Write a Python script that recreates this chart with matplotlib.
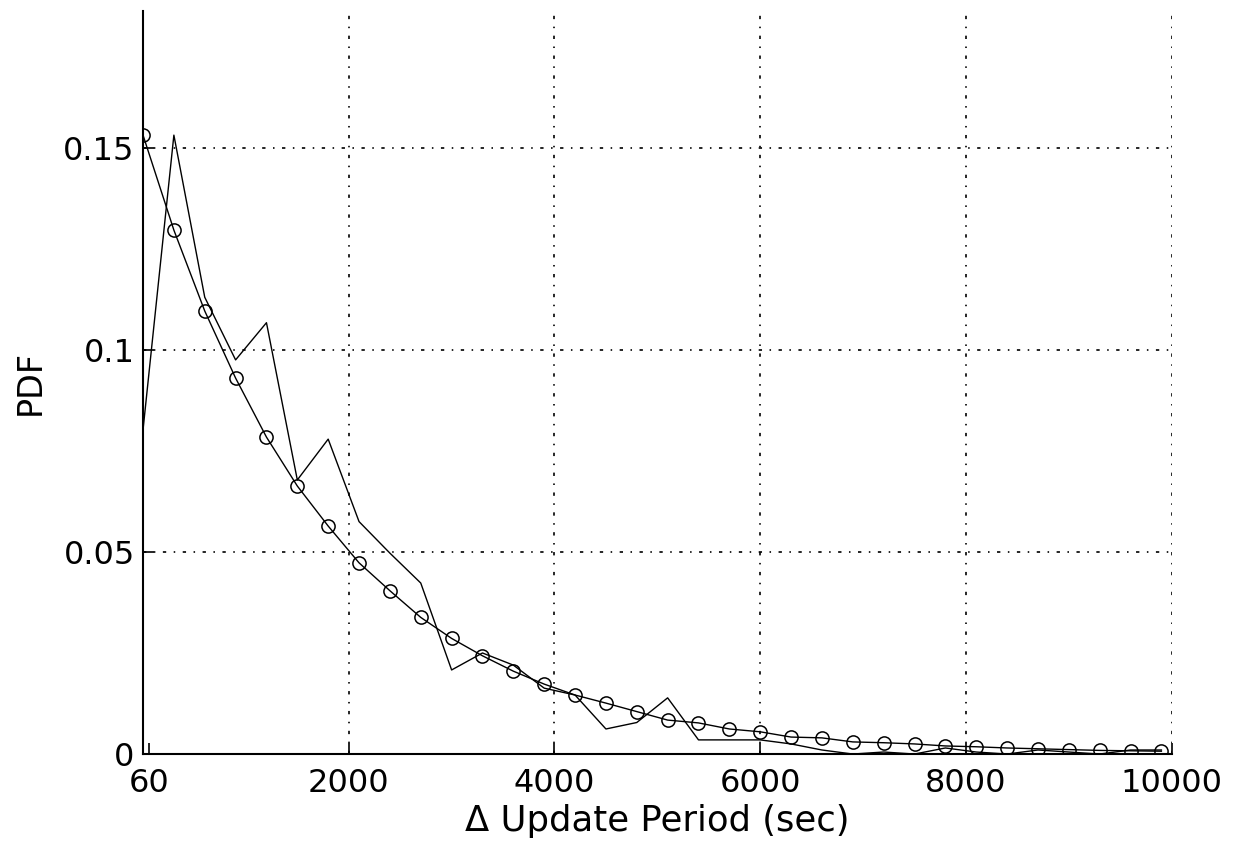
import matplotlib
matplotlib.use("Agg")
import matplotlib.pyplot as plt

# bin positions (sec)
period = [0, 300, 600, 900, 1200, 1500, 1800, 2100, 2400, 2700,
          3000, 3300, 3600, 3900, 4200, 4500, 4800, 5100, 5400, 5700,
          6000, 6300, 6600, 6900, 7200, 7500, 7800, 8100, 8400, 8700,
          9000, 9300, 9600, 9900]

# measured PDF (plain line)
pdf_measured = [0.0802, 0.1531, 0.113, 0.0975, 0.1067, 0.0678, 0.0779, 0.0575, 0.0497, 0.0423,
                0.0208, 0.0250, 0.0220, 0.0163, 0.0146, 0.0062, 0.0078, 0.0139, 0.0035, 0.0035,
                0.0035, 0.0025, 0.0010, 0.0000, 0.0005, 0.0000, 0.0015, 0.0005, 0.0000, 0.0010,
                0.0005, 0.0000, 0.0010, 0.0010]

# fitted PDF (line with circles)
pdf_fit = [0.1531, 0.1296, 0.1096, 0.0930, 0.0784, 0.0663, 0.0564, 0.0473, 0.0404, 0.0338,
           0.0286, 0.0243, 0.0205, 0.0173, 0.0146, 0.0126, 0.0105, 0.0084, 0.0077, 0.0062,
           0.0055, 0.0042, 0.0040, 0.0030, 0.0028, 0.0025, 0.0020, 0.0018, 0.0015, 0.0013,
           0.0011, 0.0009, 0.0008, 0.0007]

xticks = [60, 2000, 4000, 6000, 8000, 10000]
yticks = [0, 0.05, 0.1, 0.15]
ytick_labels = ["0", "0.05", "0.1", "0.15"]

plt.rcParams['font.family'] = ['DejaVu Sans']
plt.rcParams['lines.scale_dashes'] = False

fig = plt.figure(figsize=(12.34, 8.48), dpi=100)
ax = fig.add_axes([0.1159, 0.1108, 0.8336, 0.8762])

ax.plot(period, pdf_measured, color="black", linewidth=1.0)
ax.plot(period, pdf_fit, color="black", linewidth=1.0, marker="o",
        markersize=9.5, markerfacecolor="none", markeredgewidth=1.1)

ax.set_xlim(0, 10000)
ax.set_ylim(0, 0.1838)
ax.set_xticks(xticks)
ax.set_xticklabels([str(t) for t in xticks])
ax.set_yticks(yticks)
ax.set_yticklabels(ytick_labels)

# matlab style grid
ax.grid(True, color="black", linewidth=1.2, linestyle=(0, (2.4, 5.4, 1.1, 5.4)))
# no grid line at 60 (sits on the axis) or at 0
ax.xaxis.get_gridlines()[0].set_visible(False)
ax.yaxis.get_gridlines()[0].set_visible(False)

ax.spines['top'].set_visible(False)
ax.spines['right'].set_visible(False)
ax.spines['left'].set_linewidth(1.5)
ax.spines['bottom'].set_linewidth(1.5)
ax.tick_params(direction="in", length=8, width=1.2, labelsize=23)
ax.tick_params(axis="x", pad=10)
ax.tick_params(axis="y", pad=6)

ax.set_xlabel("Δ Update Period (sec)", fontsize=25.5, labelpad=4)
ax.set_ylabel("PDF", fontsize=24, labelpad=12)

fig.savefig("out.png", dpi=100)
